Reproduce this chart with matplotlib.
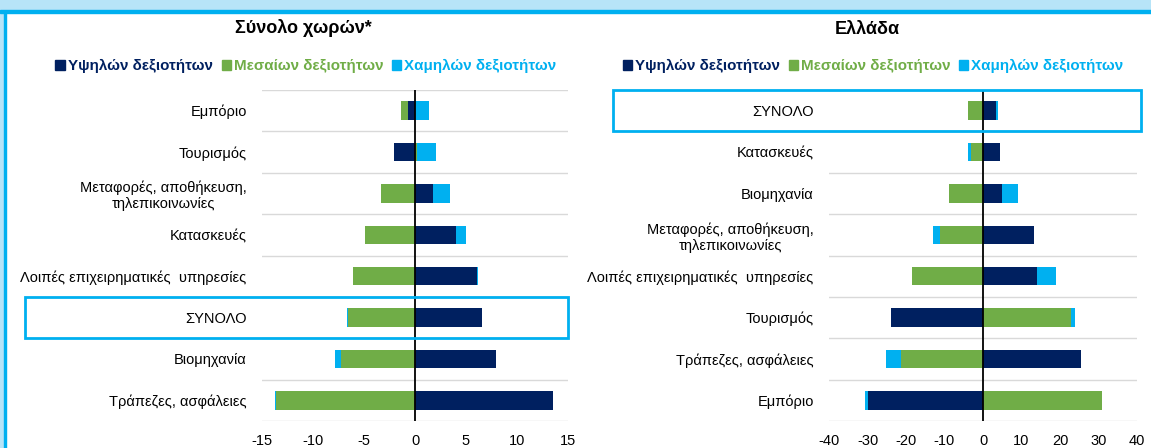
import numpy as np
import matplotlib
matplotlib.use('Agg')
import matplotlib.pyplot as plt
from matplotlib.patches import Rectangle, Patch
from matplotlib.transforms import blended_transform_factory

plt.rcParams['font.family'] = ['Liberation Sans', 'DejaVu Sans']
plt.rcParams['axes.unicode_minus'] = False

# colours of the three skill groups
c_high, c_med, c_low = '#002060', '#70ad47', '#00b0f0'
series_names = ['Υψηλών δεξιοτήτων', 'Μεσαίων δεξιοτήτων', 'Χαμηλών δεξιοτήτων']

# Σύνολο χωρών* (top to bottom)
cats_all = ['Εμπόριο', 'Τουρισμός', 'Μεταφορές, αποθήκευση,\nτηλεπικοινωνίες', 'Κατασκευές',
            'Λοιπές επιχειρηματικές  υπηρεσίες', 'ΣΥΝΟΛΟ', 'Βιομηχανία', 'Τράπεζες, ασφάλειες']
high_all = [-0.7, -2.1, 1.8, 4.0, 6.1, 6.6, 7.9, 13.5]
med_all = [-0.7, 0.15, -3.3, -4.9, -6.1, -6.6, -7.3, -13.6]
low_all = [1.4, 1.95, 1.6, 1.0, 0.1, -0.1, -0.5, -0.1]

# Ελλάδα (top to bottom)
cats_gr = ['ΣΥΝΟΛΟ', 'Κατασκευές', 'Βιομηχανία', 'Μεταφορές, αποθήκευση,\nτηλεπικοινωνίες',
           'Λοιπές επιχειρηματικές  υπηρεσίες', 'Τουρισμός', 'Τράπεζες, ασφάλειες', 'Εμπόριο']
high_gr = [3.3, 4.4, 5.0, 13.2, 14.1, -24.0, 25.4, -29.8]
med_gr = [-3.8, -3.2, -8.8, -11.2, -18.5, 22.9, -21.2, 30.8]
low_gr = [0.7, -0.8, 4.2, -1.7, 4.9, 1.0, -4.1, -0.8]

W, H = 1151, 448
fig = plt.figure(figsize=(W / 100, H / 100), dpi=100)

# frame decoration
fig.patches.append(Rectangle((0, 1 - 11 / H), 1, 11 / H, transform=fig.transFigure, color='#b7e4f8', zorder=0))
fig.patches.append(Rectangle((0, 1 - 13 / H), 1, 2.5 / H, transform=fig.transFigure, color='#00b0f0', zorder=1))
fig.patches.append(Rectangle((0, 0), 4 / W, 1, transform=fig.transFigure, color='#b7e4f8', zorder=0))
fig.patches.append(Rectangle((4 / W, 0), 2.5 / W, 1 - 11 / H, transform=fig.transFigure, color='#00b0f0', zorder=1))


def panel(ax, cats, high, med, low, lim, ticks, box_idx, box_x0, box_x1):
    y = np.arange(len(cats))
    pos = np.zeros(len(cats))
    neg = np.zeros(len(cats))
    for vals, col in [(high, c_high), (med, c_med), (low, c_low)]:
        v = np.array(vals)
        left = np.where(v >= 0, pos, neg)
        ax.barh(y, v, left=left, height=0.45, color=col, zorder=3)
        pos = pos + np.where(v >= 0, v, 0)
        neg = neg + np.where(v < 0, v, 0)
    ax.set_xlim(-lim, lim)
    ax.set_ylim(len(cats) - 0.5, -0.5)
    ax.set_xticks(ticks)
    ax.set_yticks(y)
    ax.set_yticklabels(cats, multialignment='center')
    ax.tick_params(axis='both', length=0, labelsize=10.5, colors='black')
    ax.tick_params(axis='y', pad=11)
    ax.tick_params(axis='x', pad=9)
    for s in ax.spines.values():
        s.set_visible(False)
    for b in np.arange(-0.5, len(cats), 1.0):
        ax.axhline(b, color='#d9d9d9', lw=1, zorder=1)
    ax.axvline(0, color='black', lw=1.3, zorder=4)
    tr = blended_transform_factory(fig.transFigure, ax.transData)
    ax.add_patch(Rectangle((box_x0 / W, box_idx - 0.5), (box_x1 - box_x0) / W, 1.0, transform=tr,
                           fill=False, edgecolor='#00b0f0', lw=2, clip_on=False, zorder=5))


ax1 = fig.add_axes([262 / W, 27 / H, 306 / W, 331 / H])
ax2 = fig.add_axes([829 / W, 27 / H, 308 / W, 331 / H])
panel(ax1, cats_all, high_all, med_all, low_all, 15, [-15, -10, -5, 0, 5, 10, 15], 5, 25, 568)
panel(ax2, cats_gr, high_gr, med_gr, low_gr, 40, [-40, -30, -20, -10, 0, 10, 20, 30, 40], 0, 613, 1141)

fig.text(303 / W, 1 - 28 / H, 'Σύνολο χωρών*', ha='center', va='center', fontsize=13, fontweight='bold')
fig.text(867 / W, 1 - 30 / H, 'Ελλάδα', ha='center', va='center', fontsize=13, fontweight='bold')

handles = [Patch(color=c) for c in (c_high, c_med, c_low)]
for cx in (306, 873):
    fig.legend(handles, series_names, loc='center', bbox_to_anchor=(cx / W, 1 - 66 / H), ncol=3,
               frameon=False, handlelength=0.6, handleheight=0.6, handletextpad=0.2, columnspacing=0.6,
               labelcolor=[c_high, c_med, c_low], prop={'size': 10.9, 'weight': 'bold'})

fig.savefig('out.png', dpi=100)
plt.close('all')
